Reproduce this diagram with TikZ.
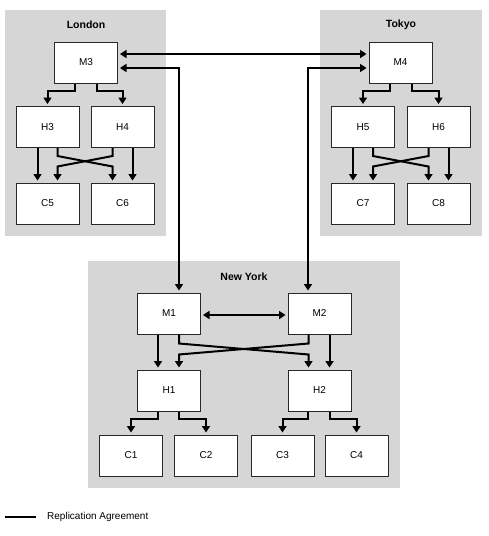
\documentclass[tikz,border=0pt]{standalone}
\usepackage{fontspec}
\setmainfont{Liberation Sans}
\usetikzlibrary{arrows.meta,calc}
\definecolor{sitegray}{RGB}{214,214,214}
\definecolor{boxline}{RGB}{40,40,40}
\begin{document}
\begin{tikzpicture}[x=1pt,y=-1pt,
  srv/.style={draw=boxline,line width=1pt,fill=white,minimum width=63pt,minimum height=41pt,inner sep=0pt,font=\fontsize{10}{12}\selectfont},
  sitetitle/.style={font=\bfseries\fontsize{10.5}{12}\selectfont},
  conn/.style={line width=2pt,-{Triangle[length=6.5pt,width=8pt]},shorten >=2pt},
  biconn/.style={line width=2pt,{Triangle[length=6.5pt,width=8pt]}-{Triangle[length=6.5pt,width=8pt]},shorten >=2pt,shorten <=2pt},
]
\useasboundingbox (0,0) rectangle (488,536);
% site areas
\fill[sitegray] (5,10) rectangle (166,236);
\fill[sitegray] (320,10) rectangle (482,236);
\fill[sitegray] (88,261) rectangle (400,488);

% London
\node[sitetitle] (tLon) at (86,25) {London};
\node[srv] (M3) at (86,62.5) {M3};
\node[srv] (H3) at (47.5,127) {H3};
\node[srv] (H4) at (122.5,127) {H4};
\node[srv] (C5) at (47.5,203.5) {C5};
\node[srv] (C6) at (122.5,203.5) {C6};

% Tokyo
\node[sitetitle] (tTok) at (401,25) {Tokyo};
\node[srv] (M4) at (400.5,62.5) {M4};
\node[srv] (H5) at (363,127) {H5};
\node[srv] (H6) at (438.5,127) {H6};
\node[srv] (C7) at (363,203.5) {C7};
\node[srv] (C8) at (438.5,203.5) {C8};

% New York
\node[sitetitle] (tNY) at (244,277) {New York};
\node[srv] (M1) at (169,313.5) {M1};
\node[srv] (M2) at (319.5,313.5) {M2};
\node[srv] (H1) at (169,390.5) {H1};
\node[srv] (H2) at (319.5,390.5) {H2};
\node[srv] (C1) at (131,455.5) {C1};
\node[srv] (C2) at (206,455.5) {C2};
\node[srv] (C3) at (282.5,455.5) {C3};
\node[srv] (C4) at (356.5,455.5) {C4};

% London connectors
\draw[conn] ([xshift=-11]M3.south) -- ++(0,7) -| (H3.north);
\draw[conn] ([xshift=11]M3.south) -- ++(0,7) -| (H4.north);
\draw[conn] ([xshift=-10]H3.south) -- ([xshift=-10]C5.north);
\draw[conn] ([xshift=10]H3.south) -- ++(0,8) -- ($(C6.north)+(-10,-16)$) -- ([xshift=-10]C6.north);
\draw[conn] ([xshift=-10]H4.south) -- ++(0,8) -- ($(C5.north)+(10,-16)$) -- ([xshift=10]C5.north);
\draw[conn] ([xshift=10]H4.south) -- ([xshift=10]C6.north);

% Tokyo connectors
\draw[conn] ([xshift=-11]M4.south) -- ++(0,7) -| (H5.north);
\draw[conn] ([xshift=11]M4.south) -- ++(0,7) -| (H6.north);
\draw[conn] ([xshift=-10]H5.south) -- ([xshift=-10]C7.north);
\draw[conn] ([xshift=10]H5.south) -- ++(0,8) -- ($(C8.north)+(-10,-16)$) -- ([xshift=-10]C8.north);
\draw[conn] ([xshift=-10]H6.south) -- ++(0,8) -- ($(C7.north)+(10,-16)$) -- ([xshift=10]C7.north);
\draw[conn] ([xshift=10]H6.south) -- ([xshift=10]C8.north);

% New York connectors
\draw[conn] ([xshift=-11]M1.south) -- ([xshift=-11]H1.north);
\draw[conn] ([xshift=10]M1.south) -- ++(0,9) -- ($(H2.north)+(-11,-15)$) -- ([xshift=-11]H2.north);
\draw[conn] ([xshift=-11]M2.south) -- ++(0,9) -- ($(H1.north)+(10,-15)$) -- ([xshift=10]H1.north);
\draw[conn] ([xshift=10]M2.south) -- ([xshift=10]H2.north);
\draw[conn] ([xshift=-11]H1.south) -- ++(0,7) -| (C1.north);
\draw[conn] ([xshift=10]H1.south) -- ++(0,7) -| (C2.north);
\draw[conn] ([xshift=-12]H2.south) -- ++(0,7) -| (C3.north);
\draw[conn] ([xshift=10]H2.south) -- ++(0,7) -| (C4.north);

% replication agreements
\draw[biconn] ([yshift=8.5]M3.east) -- ([yshift=8.5]M4.west);
\draw[biconn] ([xshift=10]M1.north) |- ([yshift=-5.5]M3.east);
\draw[biconn] ([xshift=-11.5]M2.north) |- ([yshift=-5.5]M4.west);
\draw[biconn] ([yshift=-1.5]M1.east) -- ([yshift=-1.5]M2.west);

% legend
\coordinate (lg1) at (5,517);
\coordinate (lg2) at (36,517);
\draw[line width=2pt] (lg1) -- (lg2);
\node[anchor=west,font=\fontsize{10}{12}\selectfont,inner sep=0pt] (leg) at (47,517) {Replication Agreement};
\end{tikzpicture}
\end{document}
